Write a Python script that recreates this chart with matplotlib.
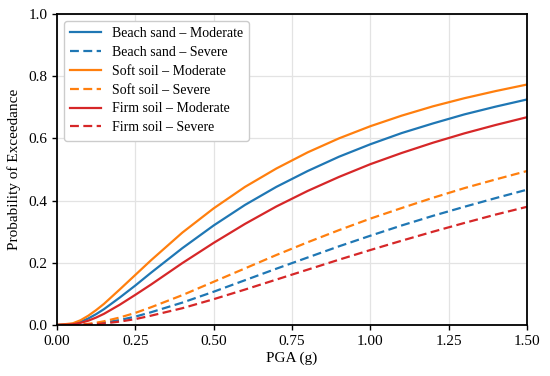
import matplotlib
matplotlib.use('Agg')
import matplotlib.pyplot as plt

plt.rcParams['font.family'] = ['Liberation Serif', 'DejaVu Serif']

# PGA values (g) and exceedance probabilities
pga = [0.0, 0.05, 0.075, 0.1, 0.125, 0.15, 0.2, 0.25, 0.3, 0.4, 0.5, 0.6, 0.7,
       0.8, 0.9, 1.0, 1.1, 1.2, 1.3, 1.4, 1.5]

beach_moderate = [0.0, 0.0035, 0.0105, 0.021, 0.035, 0.051, 0.088, 0.127, 0.168, 0.247, 0.320,
                  0.386, 0.444, 0.495, 0.541, 0.581, 0.617, 0.648, 0.677, 0.702, 0.725]
beach_severe = [0.0, 0.0002, 0.0009, 0.0024, 0.0046, 0.0077, 0.016, 0.027, 0.041, 0.072, 0.107,
                0.144, 0.181, 0.217, 0.253, 0.287, 0.320, 0.351, 0.380, 0.408, 0.435]
soft_moderate = [0.0, 0.0053, 0.0153, 0.030, 0.048, 0.068, 0.114, 0.161, 0.208, 0.297, 0.375,
                 0.444, 0.503, 0.555, 0.600, 0.639, 0.673, 0.703, 0.729, 0.752, 0.773]
soft_severe = [0.0, 0.0004, 0.0017, 0.0039, 0.0074, 0.012, 0.024, 0.039, 0.057, 0.096, 0.139,
               0.182, 0.225, 0.266, 0.305, 0.342, 0.376, 0.409, 0.440, 0.468, 0.495]
firm_moderate = [0.0, 0.0021, 0.0068, 0.014, 0.024, 0.036, 0.065, 0.097, 0.130, 0.199, 0.264,
                 0.325, 0.381, 0.431, 0.476, 0.517, 0.553, 0.586, 0.616, 0.643, 0.668]
firm_severe = [0.0, 0.0001, 0.0006, 0.0015, 0.0030, 0.0051, 0.011, 0.019, 0.030, 0.054, 0.083,
               0.114, 0.146, 0.178, 0.210, 0.241, 0.271, 0.300, 0.328, 0.355, 0.380]

x_ticks = [0.0, 0.25, 0.5, 0.75, 1.0, 1.25, 1.5]
y_ticks = [0.0, 0.2, 0.4, 0.6, 0.8, 1.0]

fig = plt.figure(figsize=(5.5, 3.76), dpi=100)
ax = fig.add_axes([0.1036, 0.1356, 0.8546, 0.8274])

lw = 1.6
ax.plot(pga, beach_moderate, color='#1f77b4', lw=lw, label='Beach sand – Moderate')
ax.plot(pga, beach_severe, color='#1f77b4', lw=lw, ls=(0, (4, 2)), label='Beach sand – Severe')
ax.plot(pga, soft_moderate, color='#ff7f0e', lw=lw, label='Soft soil – Moderate')
ax.plot(pga, soft_severe, color='#ff7f0e', lw=lw, ls=(0, (4, 2)), label='Soft soil – Severe')
ax.plot(pga, firm_moderate, color='#d62728', lw=lw, label='Firm soil – Moderate')
ax.plot(pga, firm_severe, color='#d62728', lw=lw, ls=(0, (4, 2)), label='Firm soil – Severe')

ax.set_xlim(0, 1.5)
ax.set_ylim(0, 1.0)
ax.set_xticks(x_ticks)
ax.set_yticks(y_ticks)
ax.set_xticklabels([f'{t:.2f}' for t in x_ticks])
ax.set_yticklabels([f'{t:.1f}' for t in y_ticks])
ax.tick_params(labelsize=11, length=3.5, width=1)
ax.set_xlabel('PGA (g)', fontsize=11, labelpad=3)
ax.set_ylabel('Probability of Exceedance', fontsize=11, labelpad=5)

ax.grid(True, color='#e3e3e3', lw=0.9)
ax.set_axisbelow(True)
for sp in ax.spines.values():
    sp.set_color('black')
    sp.set_linewidth(1.3)

leg = ax.legend(loc='upper left', fontsize=10, handlelength=2.2, labelspacing=0.42,
                borderpad=0.45, handletextpad=0.8, fancybox=True, framealpha=1)
leg.get_frame().set_edgecolor('#cccccc')

fig.savefig('out.png', dpi=100)
